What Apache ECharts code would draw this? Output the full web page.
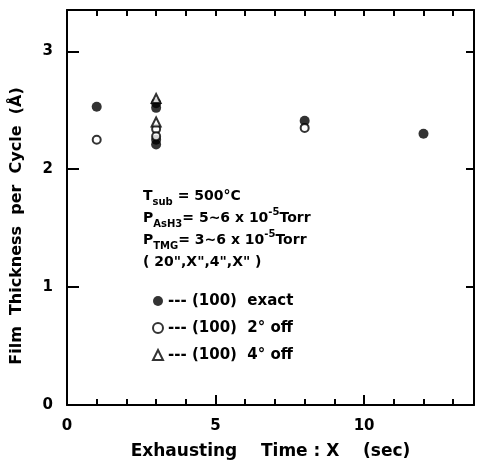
<!DOCTYPE html>
<html>
<head>
<meta charset="utf-8">
<script src="https://cdn.jsdelivr.net/npm/echarts@6/dist/echarts.min.js"></script>
<style>
  html, body { margin: 0; padding: 0; background: #fff; }
  #chart { width: 480px; height: 476px; }
</style>
</head>
<body>
<div id="chart"></div>
<script>
// Growth rate per ALE cycle vs. exhausting time X, for three substrate orientations
const seriesNames = ['(100) exact', '(100) 2\u00b0 off', '(100) 4\u00b0 off'];
const exactPts  = [[1, 2.53], [3, 2.56], [3, 2.52], [3, 2.25], [3, 2.21], [8, 2.41], [12, 2.30]];
const off2Pts   = [[1, 2.25], [3, 2.34], [3, 2.28], [8, 2.35]];
const off4Pts   = [[3, 2.60], [3, 2.40]];
const xTickLabels = [0, 5, 10];
const yTickLabels = [0, 1, 2, 3];

const FONT = 'DejaVu Sans';
const ink = '#000';

const chart = echarts.init(document.getElementById('chart'), null, { renderer: 'canvas' });

// frame lines must stay on the plot edges, not snap to the zero of the other axis
const axisLine = { show: true, onZero: false, lineStyle: { color: ink, width: 2 } };

const option = {
  backgroundColor: '#fff',
  animation: false,
  grid: { left: 67, right: 6, top: 10, bottom: 71, containLabel: false },
  xAxis: [
    {
      type: 'value', position: 'bottom', min: 0, max: 13.7, interval: 5,
      axisLine,
      axisTick: { show: true, inside: true, length: 10, lineStyle: { color: ink, width: 2 } },
      minorTick: { show: true, splitNumber: 5, length: 6, lineStyle: { color: ink, width: 2 } },
      splitLine: { show: false },
      axisLabel: {
        margin: 14, color: ink, fontFamily: FONT, fontSize: 15, fontWeight: 'bold',
        showMaxLabel: false,
        formatter: v => (xTickLabels.includes(v) ? String(v) : '')
      },
      name: 'Exhausting    Time : X    (sec)', nameLocation: 'middle', nameGap: 38,
      nameTextStyle: { color: ink, fontFamily: FONT, fontSize: 17, fontWeight: 'bold' }
    },
    {
      type: 'value', position: 'top', min: 0, max: 13.7, interval: 1,
      axisLine,
      axisTick: { show: true, inside: true, length: 6, lineStyle: { color: ink, width: 2 } },
      axisLabel: { show: false }, splitLine: { show: false }
    }
  ],
  yAxis: [
    {
      type: 'value', position: 'left', min: 0, max: 3.35, interval: 1,
      axisLine,
      axisTick: { show: true, inside: true, length: 12, lineStyle: { color: ink, width: 2 } },
      splitLine: { show: false },
      axisLabel: {
        margin: 14, color: ink, fontFamily: FONT, fontSize: 15, fontWeight: 'bold',
        showMaxLabel: false,
        formatter: v => (yTickLabels.includes(v) ? String(v) : '')
      }
    },
    {
      type: 'value', position: 'right', min: 0, max: 3.35, interval: 1,
      axisLine,
      axisTick: { show: true, inside: true, length: 8, lineStyle: { color: ink, width: 2 } },
      axisLabel: { show: false }, splitLine: { show: false }
    }
  ],
  legend: {
    orient: 'vertical', left: 147, top: 288,
    itemWidth: 10, itemHeight: 10, itemGap: 11,
    data: seriesNames,
    formatter: name => '--- ' + name.replace(') ', ')  '),
    textStyle: { color: ink, fontFamily: FONT, fontSize: 15, fontWeight: 'bold', lineHeight: 16 }
  },
  graphic: [
    {
      // vertical axis title, set a little below the plot's middle
      type: 'text', x: 17, y: 226, rotation: Math.PI / 2,
      style: {
        text: 'Film  Thickness  per  Cycle  (\u00c5)',
        fill: ink, font: 'bold 16px "DejaVu Sans"',
        align: 'center', verticalAlign: 'middle'
      }
    },
    {
      type: 'text', left: 143, top: 185,
      style: {
        text: [
          'T{sub|sub} = 500\u00b0C',
          'P{sub|AsH}{sub2|3}= 5~6 x 10{sup|-5}Torr',
          'P{sub|TMG}= 3~6 x 10{sup|-5}Torr',
          '( 20",X",4",X" )'
        ].join('\n'),
        fill: ink, font: 'bold 14px "DejaVu Sans"', lineHeight: 22,
        rich: {
          sub:  { fontSize: 10, fontFamily: FONT, fontWeight: 'bold', lineHeight: 12, verticalAlign: 'bottom', fill: ink },
          sub2: { fontSize: 10, fontFamily: FONT, fontWeight: 'bold', lineHeight: 8, verticalAlign: 'bottom', fill: ink },
          sup:  { fontSize: 10, fontFamily: FONT, fontWeight: 'bold', lineHeight: 12, verticalAlign: 'top', fill: ink }
        }
      }
    }
  ],
  series: [
    {
      name: seriesNames[0], type: 'scatter', data: exactPts,
      symbol: 'circle', symbolSize: 10,
      itemStyle: { color: ink }
    },
    {
      name: seriesNames[1], type: 'scatter', data: off2Pts,
      symbol: 'emptyCircle', symbolSize: 8,
      itemStyle: { color: ink, borderWidth: 1.4 }
    },
    {
      name: seriesNames[2], type: 'scatter', data: off4Pts,
      symbol: 'emptyTriangle', symbolSize: 9,
      itemStyle: { color: ink, borderWidth: 1.4 }
    }
  ]
};

chart.setOption(option);
</script>
</body>
</html>
